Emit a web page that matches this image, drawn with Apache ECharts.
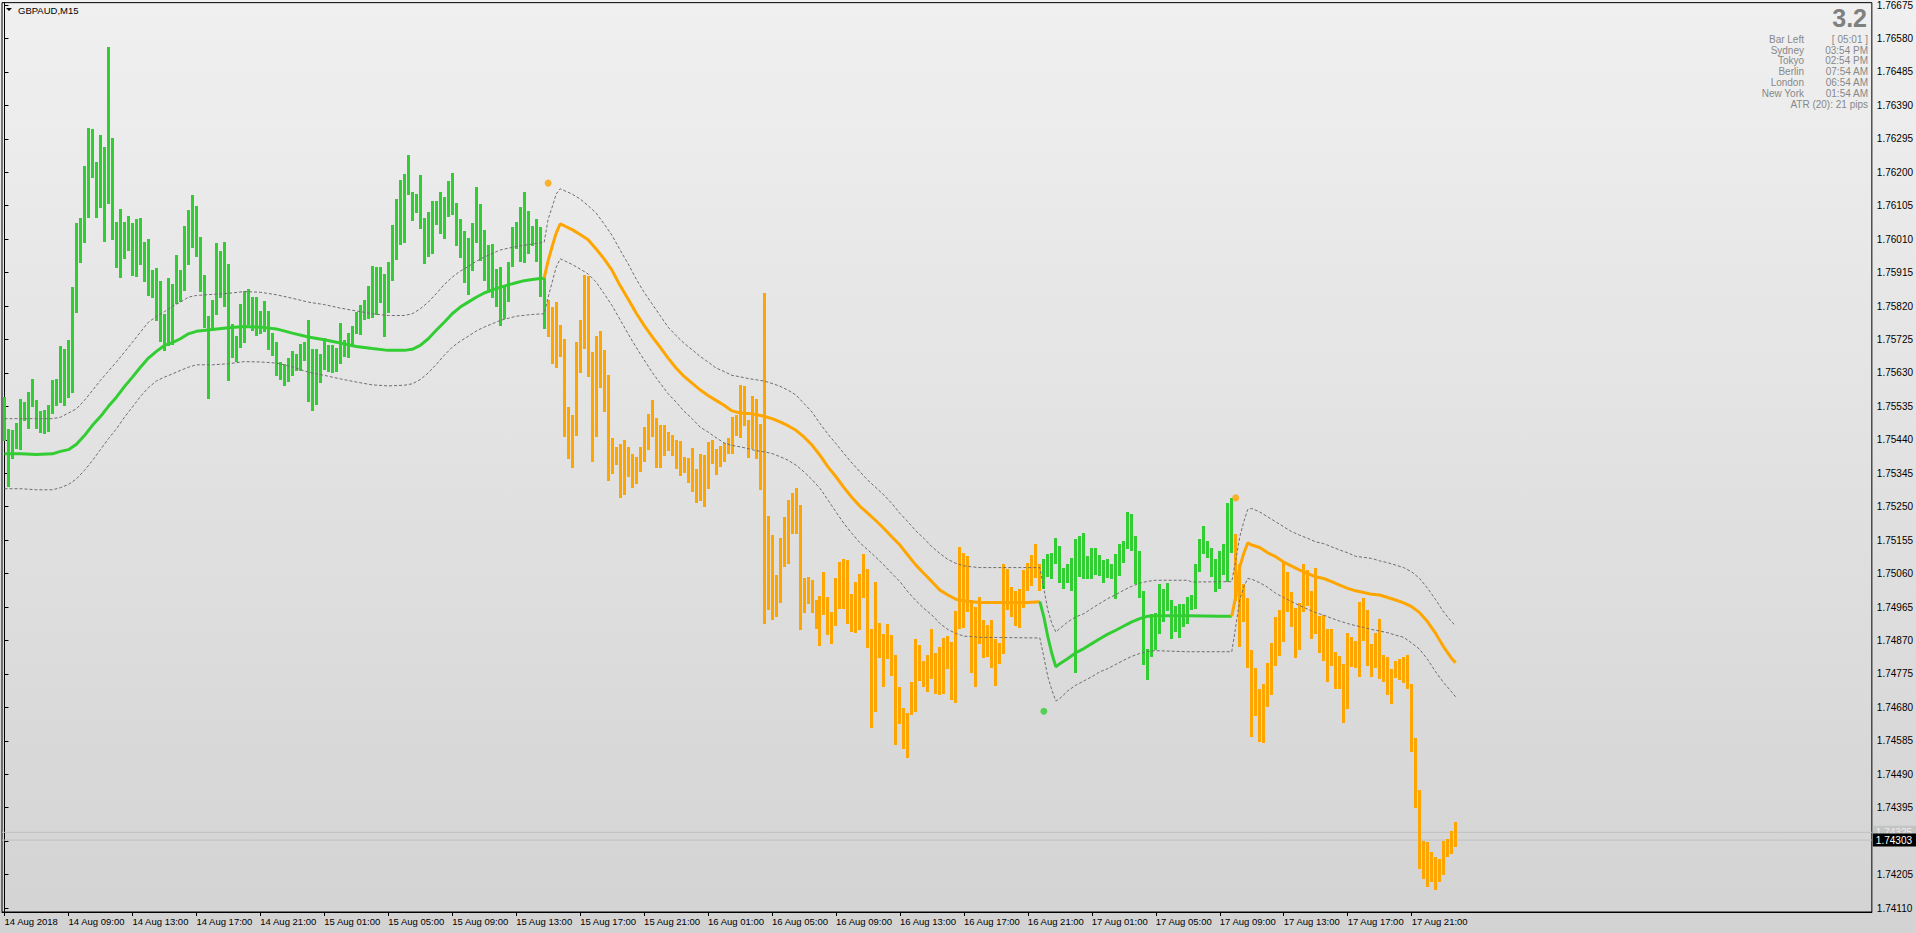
<!DOCTYPE html>
<html><head><meta charset="utf-8">
<script src="https://cdn.jsdelivr.net/npm/echarts@6/dist/echarts.min.js"></script>
<style>html,body{margin:0;padding:0;background:#e0e0e0;overflow:hidden}#c{width:1916px;height:933px}</style>
</head><body><div id="c"></div>
<script>
const chartTitle = 'GBPAUD,M15';
const xTickBars = [0,16,32,48,64,80,96,112,128,144,160,176,192,208,224,240,256,272,288,304,320,336,352];
const xTickLabels = ['14 Aug 2018','14 Aug 09:00','14 Aug 13:00','14 Aug 17:00','14 Aug 21:00','15 Aug 01:00','15 Aug 05:00','15 Aug 09:00','15 Aug 13:00','15 Aug 17:00','15 Aug 21:00','16 Aug 01:00','16 Aug 05:00','16 Aug 09:00','16 Aug 13:00','16 Aug 17:00','16 Aug 21:00','17 Aug 01:00','17 Aug 05:00','17 Aug 09:00','17 Aug 13:00','17 Aug 17:00','17 Aug 21:00'];
const yTickLabels = ['1.74110','1.74205','1.74395','1.74490','1.74585','1.74680','1.74775','1.74870','1.74965','1.75060','1.75155','1.75250','1.75345','1.75440','1.75535','1.75630','1.75725','1.75820','1.75915','1.76010','1.76105','1.76200','1.76295','1.76390','1.76485','1.76580','1.76675'];
const yTickMarks = ['1.74110','1.74205','1.74300','1.74395','1.74490','1.74585','1.74680','1.74775','1.74870','1.74965','1.75060','1.75155','1.75250','1.75345','1.75440','1.75535','1.75630','1.75725','1.75820','1.75915','1.76010','1.76105','1.76200','1.76295','1.76390','1.76485','1.76580','1.76675'];

const highs = [
1.75561,1.75471,1.75467,1.75488,1.75556,1.75547,1.75577,1.75613,1.75552,1.75523,
1.75526,1.75540,1.75609,1.75613,1.75705,1.75698,1.75724,1.75875,1.76055,1.76070,
1.76219,1.76326,1.76323,1.76230,1.76306,1.76273,1.76557,1.76297,1.76060,1.76096,
1.76058,1.76077,1.76056,1.76067,1.76070,1.76003,1.76011,1.75921,1.75928,1.75892,
1.75798,1.75900,1.75883,1.75966,1.75923,1.76048,1.76094,1.76134,1.76105,1.76017,
1.75907,1.75793,1.75837,1.76000,1.75976,1.76003,1.75940,1.75769,1.75736,1.75826,
1.75862,1.75867,1.75845,1.75845,1.75805,1.75833,1.75807,1.75743,1.75717,1.75661,
1.75654,1.75673,1.75691,1.75684,1.75711,1.75719,1.75779,1.75699,1.75699,1.75683,
1.75730,1.75708,1.75708,1.75701,1.75772,1.75724,1.75744,1.75762,1.75802,1.75824,
1.75836,1.75876,1.75934,1.75932,1.75932,1.75912,1.75944,1.76049,1.76123,1.76179,
1.76195,1.76250,1.76145,1.76137,1.76191,1.76070,1.76088,1.76117,1.76117,1.76145,
1.76131,1.76174,1.76199,1.76114,1.76066,1.76033,1.76013,1.76055,1.76158,1.76109,
1.76037,1.75992,1.75996,1.75924,1.75932,1.75878,1.75946,1.76044,1.76060,1.76101,
1.76145,1.76091,1.76048,1.76066,1.76044,1.75902,1.75836,1.75817,1.75831,1.75765,
1.75725,1.75533,1.75509,1.75717,1.75779,1.75909,1.75904,1.75689,1.75736,1.75750,
1.75694,1.75623,1.75445,1.75419,1.75427,1.75438,1.75419,1.75400,1.75391,1.75419,
1.75476,1.75512,1.75552,1.75502,1.75481,1.75481,1.75462,1.75455,1.75440,1.75436,
1.75391,1.75388,1.75416,1.75356,1.75400,1.75398,1.75435,1.75440,1.75415,1.75421,
1.75431,1.75446,1.75506,1.75510,1.75595,1.75592,1.75497,1.75564,1.75555,1.75484,
1.75857,1.75223,1.75169,1.75056,1.75162,1.75221,1.75269,1.75289,1.75302,1.75254,
1.75048,1.75051,1.75041,1.74985,1.74996,1.75065,1.74994,1.74952,1.75048,1.75093,
1.75101,1.75098,1.75002,1.75037,1.75058,1.75115,1.75073,1.74902,1.75037,1.74920,
1.74888,1.74917,1.74885,1.74829,1.74739,1.74679,1.74665,1.74753,1.74874,1.74857,
1.74811,1.74829,1.74902,1.74835,1.74852,1.74878,1.74883,1.74866,1.74954,1.75136,
1.75119,1.75110,1.74985,1.74966,1.74994,1.74927,1.74913,1.74927,1.74873,1.74864,
1.75086,1.75072,1.75022,1.75010,1.75015,1.75069,1.75090,1.75112,1.75143,1.75086,
1.75101,1.75115,1.75119,1.75162,1.75137,1.75077,1.75088,1.75105,1.75157,1.75166,
1.75176,1.75109,1.75134,1.75134,1.75112,1.75098,1.75102,1.75088,1.75115,1.75143,
1.75153,1.75234,1.75228,1.75166,1.75123,1.75010,1.74847,1.74946,1.74949,1.75030,
1.75015,1.75034,1.74984,1.74967,1.74973,1.74973,1.74994,1.74998,1.75086,1.75157,
1.75194,1.75152,1.75133,1.75102,1.75124,1.75145,1.75261,1.75275,1.75172,1.75087,
1.75030,1.74991,1.74843,1.74793,1.74732,1.74746,1.74807,1.74863,1.74937,1.74956,
1.75095,1.75065,1.75008,1.74963,1.74975,1.75087,1.75070,1.75010,1.75077,1.74939,
1.74942,1.74902,1.74902,1.74838,1.74826,1.74803,1.74892,1.74879,1.74868,1.74980,
1.74991,1.74956,1.74860,1.74892,1.74931,1.74828,1.74824,1.74789,1.74811,1.74817,
1.74824,1.74828,1.74746,1.74594,1.74445,1.74301,1.74297,1.74270,1.74256,1.74249,
1.74299,1.74306,1.74329,1.74353];

const lows = [
1.75438,1.75310,1.75388,1.75416,1.75413,1.75495,1.75473,1.75535,1.75473,1.75462,
1.75459,1.75464,1.75516,1.75540,1.75547,1.75540,1.75561,1.75577,1.75802,1.75944,
1.76001,1.76072,1.76186,1.76072,1.76101,1.76006,1.76112,1.76010,1.75932,1.75902,
1.75956,1.75978,1.75907,1.75904,1.75940,1.75890,1.75850,1.75845,1.75779,1.75720,
1.75696,1.75708,1.75713,1.75828,1.75834,1.75866,1.75940,1.75989,1.75961,1.75862,
1.75760,1.75558,1.75752,1.75797,1.75845,1.75819,1.75610,1.75675,1.75665,1.75703,
1.75717,1.75768,1.75751,1.75739,1.75743,1.75748,1.75697,1.75680,1.75623,1.75612,
1.75595,1.75607,1.75623,1.75639,1.75639,1.75666,1.75550,1.75526,1.75541,1.75604,
1.75642,1.75635,1.75632,1.75635,1.75658,1.75677,1.75675,1.75708,1.75743,1.75741,
1.75782,1.75787,1.75789,1.75798,1.75831,1.75736,1.75803,1.75893,1.75953,1.75997,
1.76001,1.76139,1.76065,1.76087,1.76041,1.75942,1.75962,1.75970,1.76052,1.76027,
1.76013,1.76077,1.76080,1.75992,1.75959,1.75888,1.75853,1.75921,1.76001,1.75951,
1.75894,1.75860,1.75845,1.75821,1.75765,1.75785,1.75833,1.75935,1.75985,1.75947,
1.75944,1.75970,1.75992,1.75947,1.75848,1.75757,1.75734,1.75658,1.75646,1.75677,
1.75450,1.75388,1.75363,1.75455,1.75632,1.75700,1.75621,1.75381,1.75452,1.75590,
1.75521,1.75327,1.75345,1.75370,1.75277,1.75287,1.75337,1.75306,1.75317,1.75351,
1.75380,1.75413,1.75450,1.75364,1.75363,1.75396,1.75412,1.75396,1.75361,1.75339,
1.75348,1.75320,1.75294,1.75263,1.75268,1.75252,1.75304,1.75374,1.75344,1.75365,
1.75381,1.75402,1.75402,1.75453,1.75448,1.75481,1.75392,1.75417,1.75389,1.75300,
1.74920,1.74959,1.74931,1.74939,1.74980,1.75081,1.75091,1.75176,1.75176,1.74902,
1.74952,1.74977,1.74952,1.74906,1.74857,1.74944,1.74888,1.74862,1.74914,1.74961,
1.74963,1.74920,1.74898,1.74895,1.74902,1.74994,1.74852,1.74623,1.74671,1.74824,
1.74741,1.74821,1.74772,1.74575,1.74635,1.74565,1.74540,1.74660,1.74671,1.74758,
1.74741,1.74727,1.74762,1.74722,1.74717,1.74722,1.74791,1.74703,1.74696,1.74904,
1.74909,1.74954,1.74781,1.74741,1.74864,1.74823,1.74826,1.74795,1.74743,1.74806,
1.74835,1.74959,1.74940,1.74913,1.74909,1.74965,1.75013,1.75027,1.75050,1.75014,
1.75019,1.75053,1.75048,1.75090,1.75036,1.75019,1.75036,1.75014,1.74781,1.75052,
1.75046,1.75048,1.75048,1.75058,1.75055,1.75036,1.75050,1.75048,1.74991,1.75055,
1.75093,1.75133,1.75126,1.75033,1.74994,1.74803,1.74760,1.74825,1.74847,1.74891,
1.74926,1.74956,1.74877,1.74896,1.74880,1.74911,1.74920,1.74959,1.74961,1.75067,
1.75119,1.75107,1.75053,1.75011,1.75019,1.75058,1.75039,1.75122,1.74985,1.74855,
1.74925,1.74795,1.74599,1.74658,1.74584,1.74582,1.74684,1.74718,1.74800,1.74828,
1.74869,1.74954,1.74912,1.74824,1.74846,1.74954,1.74970,1.74878,1.74892,1.74838,
1.74814,1.74756,1.74800,1.74736,1.74736,1.74639,1.74679,1.74798,1.74795,1.74770,
1.74871,1.74800,1.74770,1.74795,1.74764,1.74756,1.74718,1.74693,1.74767,1.74760,
1.74753,1.74736,1.74557,1.74398,1.74225,1.74196,1.74173,1.74188,1.74164,1.74188,
1.74207,1.74258,1.74267,1.74287];

// trend state per bar: ranges of bars drawn in the "up" colour
const upTrendRanges = [[0,135],[260,307]];

const maUp1 = [[0,1.75400],[4,1.75400],[8,1.75398],[12,1.75400],[14,1.75407],[16,1.75412],[18,1.75427],[20,1.75452],[22,1.75481],[24,1.75506],[26,1.75535],[28,1.75561],[30,1.75591],[32,1.75618],[34,1.75646],[36,1.75672],[38,1.75691],[40,1.75708],[42,1.75716],[44,1.75727],[46,1.75741],[48,1.75748],[52,1.75753],[56,1.75758],[60,1.75762],[64,1.75760],[68,1.75755],[72,1.75743],[76,1.75732],[80,1.75724],[84,1.75715],[88,1.75705],[92,1.75699],[96,1.75694],[100,1.75694],[102,1.75697],[104,1.75708],[106,1.75727],[108,1.75751],[110,1.75774],[112,1.75798],[114,1.75817],[116,1.75831],[118,1.75845],[120,1.75857],[122,1.75866],[124,1.75873],[126,1.75880],[128,1.75886],[130,1.75892],[132,1.75895],[134,1.75898],[135,1.75899]];
const maDown1 = [[135,1.75899],[136,1.75949],[137,1.75989],[138,1.76027],[139,1.76053],[140,1.76048],[142,1.76037],[144,1.76023],[146,1.76008],[148,1.75982],[150,1.75954],[152,1.75921],[154,1.75878],[156,1.75840],[158,1.75800],[160,1.75765],[162,1.75733],[164,1.75703],[166,1.75672],[168,1.75644],[170,1.75620],[172,1.75601],[174,1.75582],[176,1.75566],[178,1.75552],[180,1.75538],[182,1.75522],[184,1.75516],[186,1.75515],[188,1.75512],[190,1.75507],[192,1.75500],[194,1.75491],[196,1.75480],[198,1.75467],[200,1.75448],[202,1.75425],[204,1.75396],[206,1.75363],[208,1.75335],[210,1.75304],[212,1.75276],[214,1.75251],[216,1.75231],[218,1.75210],[220,1.75188],[222,1.75164],[224,1.75141],[226,1.75112],[228,1.75084],[230,1.75060],[232,1.75037],[234,1.75013],[236,1.74999],[238,1.74987],[240,1.74983],[242,1.74980],[244,1.74978],[250,1.74978],[256,1.74978],[259,1.74980]];
const maUp2 = [[259,1.74980],[260,1.74937],[261,1.74880],[262,1.74833],[263,1.74795],[264,1.74804],[266,1.74819],[268,1.74835],[270,1.74847],[272,1.74861],[274,1.74875],[276,1.74888],[278,1.74899],[280,1.74911],[282,1.74923],[284,1.74932],[286,1.74939],[288,1.74940],[296,1.74940],[304,1.74939],[307,1.74939]];
const maDown2 = [[307,1.74939],[308,1.74994],[309,1.75079],[310,1.75117],[311,1.75147],[312,1.75141],[314,1.75134],[316,1.75119],[318,1.75108],[320,1.75093],[322,1.75081],[324,1.75070],[326,1.75060],[328,1.75051],[330,1.75046],[332,1.75037],[334,1.75027],[336,1.75018],[338,1.75011],[340,1.75006],[342,1.75001],[344,1.74999],[346,1.74992],[348,1.74985],[350,1.74977],[352,1.74966],[354,1.74949],[356,1.74923],[358,1.74890],[360,1.74852],[362,1.74819],[363,1.74807]];

const upperBand = [[0,1.75500],[12,1.75500],[14,1.75504],[16,1.75516],[18,1.75528],[20,1.75552],[22,1.75580],[24,1.75609],[26,1.75635],[28,1.75661],[30,1.75689],[32,1.75717],[34,1.75746],[36,1.75774],[38,1.75790],[40,1.75804],[42,1.75819],[44,1.75831],[46,1.75845],[48,1.75850],[52,1.75853],[56,1.75856],[60,1.75861],[64,1.75859],[68,1.75852],[72,1.75842],[76,1.75831],[80,1.75824],[84,1.75814],[88,1.75806],[92,1.75798],[96,1.75793],[100,1.75793],[102,1.75798],[104,1.75812],[106,1.75831],[108,1.75855],[110,1.75881],[112,1.75902],[114,1.75919],[116,1.75932],[118,1.75947],[120,1.75959],[124,1.75979],[128,1.75989],[132,1.75996],[135,1.76001],[136,1.76067],[137,1.76101],[138,1.76138],[139,1.76153],[140,1.76148],[142,1.76138],[144,1.76124],[146,1.76105],[148,1.76084],[150,1.76053],[152,1.76020],[154,1.75979],[156,1.75940],[158,1.75897],[160,1.75859],[162,1.75826],[164,1.75793],[166,1.75760],[168,1.75736],[170,1.75714],[172,1.75696],[174,1.75677],[176,1.75661],[178,1.75644],[180,1.75634],[182,1.75623],[184,1.75619],[186,1.75614],[190,1.75607],[192,1.75600],[194,1.75592],[196,1.75581],[198,1.75567],[200,1.75543],[202,1.75519],[204,1.75486],[206,1.75456],[208,1.75429],[210,1.75401],[212,1.75374],[214,1.75349],[216,1.75325],[218,1.75304],[220,1.75283],[222,1.75259],[224,1.75231],[226,1.75207],[228,1.75181],[230,1.75160],[232,1.75136],[234,1.75117],[236,1.75100],[238,1.75089],[240,1.75082],[242,1.75079],[244,1.75077],[259,1.75077],[260,1.75017],[261,1.74956],[262,1.74918],[263,1.74894],[264,1.74904],[266,1.74923],[268,1.74937],[270,1.74946],[272,1.74961],[274,1.74975],[276,1.74989],[278,1.75000],[280,1.75013],[282,1.75024],[284,1.75033],[286,1.75038],[288,1.75041],[296,1.75041],[297,1.75036],[307,1.75037],[308,1.75098],[309,1.75164],[310,1.75207],[311,1.75242],[312,1.75245],[314,1.75235],[316,1.75221],[318,1.75207],[320,1.75193],[322,1.75179],[324,1.75169],[326,1.75160],[328,1.75150],[330,1.75145],[332,1.75136],[334,1.75127],[336,1.75119],[338,1.75109],[340,1.75106],[342,1.75103],[344,1.75096],[346,1.75091],[348,1.75084],[350,1.75077],[352,1.75065],[354,1.75046],[356,1.75018],[358,1.74986],[360,1.74951],[362,1.74923],[363,1.74912]];
const lowerBand = [[0,1.75301],[4,1.75301],[8,1.75298],[12,1.75298],[14,1.75304],[16,1.75313],[18,1.75329],[20,1.75353],[22,1.75381],[24,1.75412],[26,1.75443],[28,1.75471],[30,1.75504],[32,1.75533],[34,1.75563],[36,1.75588],[38,1.75607],[40,1.75618],[42,1.75627],[44,1.75637],[46,1.75646],[48,1.75653],[52,1.75653],[56,1.75656],[60,1.75662],[64,1.75661],[68,1.75658],[72,1.75647],[76,1.75632],[80,1.75623],[84,1.75613],[88,1.75604],[92,1.75596],[96,1.75593],[100,1.75595],[102,1.75599],[104,1.75611],[106,1.75630],[108,1.75654],[110,1.75680],[112,1.75703],[114,1.75720],[116,1.75734],[118,1.75749],[120,1.75760],[124,1.75779],[128,1.75791],[132,1.75796],[135,1.75798],[136,1.75845],[137,1.75888],[138,1.75930],[139,1.75954],[140,1.75949],[142,1.75938],[144,1.75925],[146,1.75911],[148,1.75888],[150,1.75855],[152,1.75821],[154,1.75781],[156,1.75741],[158,1.75703],[160,1.75667],[162,1.75632],[164,1.75601],[166,1.75571],[168,1.75547],[170,1.75521],[172,1.75500],[174,1.75476],[176,1.75462],[178,1.75446],[180,1.75431],[182,1.75424],[184,1.75420],[186,1.75415],[188,1.75409],[190,1.75406],[192,1.75401],[194,1.75392],[196,1.75382],[198,1.75368],[200,1.75349],[202,1.75327],[204,1.75302],[206,1.75269],[208,1.75235],[210,1.75202],[212,1.75174],[214,1.75147],[216,1.75127],[218,1.75106],[220,1.75084],[222,1.75060],[224,1.75037],[226,1.75008],[228,1.74983],[230,1.74961],[232,1.74942],[234,1.74918],[236,1.74901],[238,1.74890],[240,1.74882],[242,1.74881],[244,1.74879],[259,1.74877],[260,1.74823],[261,1.74767],[262,1.74729],[263,1.74698],[264,1.74705],[266,1.74727],[268,1.74743],[270,1.74755],[272,1.74767],[274,1.74781],[276,1.74790],[278,1.74802],[280,1.74814],[282,1.74825],[284,1.74833],[286,1.74839],[288,1.74841],[296,1.74838],[307,1.74838],[308,1.74909],[309,1.74985],[310,1.75022],[311,1.75046],[312,1.75044],[314,1.75034],[316,1.75021],[318,1.75004],[320,1.74992],[322,1.74980],[324,1.74969],[326,1.74959],[328,1.74949],[330,1.74942],[332,1.74933],[334,1.74925],[336,1.74918],[338,1.74912],[340,1.74907],[342,1.74901],[344,1.74897],[346,1.74892],[348,1.74885],[350,1.74879],[352,1.74863],[354,1.74845],[356,1.74816],[358,1.74781],[360,1.74750],[362,1.74724],[363,1.74710]];

const dotsDown = [[136,1.76169],[308,1.75275]];
const dotsUp = [[260,1.74669]];
const askPrice = 1.74325;
const bidPrice = 1.74303;

const bigValue = '3.2';
const infoLabels = ['Bar Left','Sydney','Tokyo','Berlin','London','New York'];
const infoValues = ['[ 05:01 ]','03:54 PM','02:54 PM','07:54 AM','06:54 AM','01:54 AM'];
const atrText = 'ATR (20): 21 pips';

const UP = '#32CD32', DOWN = '#FFA500', BAND = '#6e6e6e';
const FONT = '"Liberation Sans", Arial, sans-serif';
const X_MIN = -0.625, X_MAX = 467.125;

const chart = echarts.init(document.getElementById('c'), null, {renderer: 'svg', width: 1916, height: 933});
const isUp = i => upTrendRanges.some(r => i >= r[0] && i <= r[1]);
const barData = highs.map((h, i) => [i, h, lows[i]]);

const graphics = [
  {type: 'polygon', shape: {points: [[6, 8], [12, 8], [9, 11]]}, style: {fill: '#000'}},
  {type: 'text', x: 18, y: 10, style: {text: chartTitle, font: '9.5px ' + FONT, fill: '#000', textVerticalAlign: 'middle'}},
  {type: 'text', x: 1867, y: 18, style: {text: bigValue, font: 'bold 25px ' + FONT, fill: '#808080', textAlign: 'right', textVerticalAlign: 'middle'}},
  {type: 'text', x: 1868, y: 104, style: {text: atrText, font: '10px ' + FONT, fill: '#888', textAlign: 'right', textVerticalAlign: 'middle'}}
];
infoLabels.forEach((t, k) => {
  graphics.push({type: 'text', x: 1804, y: 39.5 + k * 10.7, style: {text: t, font: '10px ' + FONT, fill: '#888', textAlign: 'right', textVerticalAlign: 'middle'}});
  graphics.push({type: 'text', x: 1868, y: 39.5 + k * 10.7, style: {text: infoValues[k], font: '10px ' + FONT, fill: '#888', textAlign: 'right', textVerticalAlign: 'middle'}});
});

const lineSeries = (data, color, width, dash, z) => ({
  type: 'line', data, showSymbol: false, symbol: 'none', silent: true, z,
  lineStyle: {color, width, type: dash || 'solid'}, animation: false
});

const priceLine = (price, bg, fg, z) => ({
  type: 'line', data: [[X_MIN, price], [X_MAX, price]], showSymbol: false, symbol: 'none', silent: true, z,
  clip: false,
  lineStyle: {color: '#c0c0c0', width: 1, type: 'solid'},
  endLabel: {show: true, formatter: () => price.toFixed(5), distance: 1, fontSize: 10, fontFamily: FONT,
    backgroundColor: bg, color: fg, padding: [2, 5, 1, 3]}
});

const option = {
  animation: false,
  backgroundColor: new echarts.graphic.LinearGradient(0, 0, 0, 1, [
    {offset: 0, color: '#f0f0f0'}, {offset: 1, color: '#d3d3d3'}
  ]),
  grid: {left: 2, top: 2, right: 43, bottom: 21, show: true, borderColor: '#000', borderWidth: 1, backgroundColor: 'transparent'},
  xAxis: {
    type: 'value', min: X_MIN, max: X_MAX,
    axisLine: {show: true, lineStyle: {color: '#000', width: 1}},
    axisTick: {show: true, customValues: xTickBars, length: 4, lineStyle: {color: '#000'}},
    axisLabel: {customValues: xTickBars, formatter: v => xTickLabels[xTickBars.indexOf(v)], align: 'left', margin: 4, fontSize: 9.5, fontFamily: FONT, color: '#000'},
    splitLine: {show: false}
  },
  yAxis: {
    type: 'value', position: 'right', min: 1.740987, max: 1.766817,
    axisLine: {show: true, lineStyle: {color: '#000', width: 1}},
    axisTick: {show: true, customValues: yTickMarks.map(Number), length: 4, lineStyle: {color: '#000'}},
    axisLabel: {customValues: yTickLabels.map(Number), formatter: v => v.toFixed(5), margin: 5, fontSize: 10, fontFamily: FONT, color: '#000'},
    splitLine: {show: false}
  },
  graphic: graphics,
  series: [
    priceLine(askPrice, '#c4c4c4', '#ececec', 1),
    priceLine(bidPrice, '#000', '#fff', 1),
    {
      type: 'custom', data: barData, encode: {x: 0, y: [1, 2]}, z: 2, silent: true, clip: true,
      renderItem: (params, api) => {
        const i = api.value(0);
        const top = api.coord([i, api.value(1)]);
        const bot = api.coord([i, api.value(2)]);
        const x = Math.round(top[0] - 1.5);
        const y = Math.round(top[1]);
        const h = Math.max(1, Math.round(bot[1]) - y + 1);
        return {type: 'rect', shape: {x, y, width: 3, height: h}, style: {fill: isUp(i) ? UP : DOWN}};
      }
    },
    lineSeries(upperBand, BAND, 1, [3, 2], 3),
    lineSeries(lowerBand, BAND, 1, [3, 2], 3),
    lineSeries(maUp1, UP, 3, null, 4),
    lineSeries(maDown1, DOWN, 3, null, 4),
    lineSeries(maUp2, UP, 3, null, 4),
    lineSeries(maDown2, DOWN, 3, null, 4),
    {type: 'scatter', data: dotsDown, symbolSize: 7, itemStyle: {color: DOWN}, z: 5, silent: true},
    {type: 'scatter', data: dotsUp, symbolSize: 7, itemStyle: {color: UP}, z: 5, silent: true}
  ]
};
chart.setOption(option);
</script>
</body></html>
